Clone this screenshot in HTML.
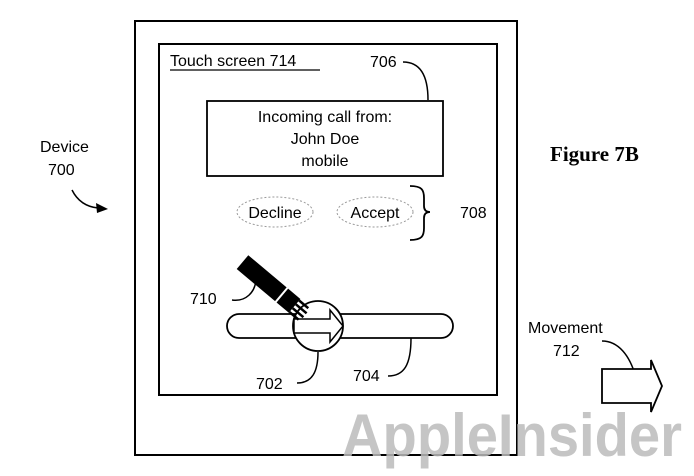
<!DOCTYPE html>
<html><head><style>body{margin:0;background:#fff}svg{display:block}</style></head><body>
<svg width="694" height="476" viewBox="0 0 694 476" font-family="Liberation Sans, sans-serif" font-size="16" fill="#000">
<rect width="694" height="476" fill="#fff"/>
<rect x="135" y="21" width="382" height="434" fill="none" stroke="#000" stroke-width="2"/>
<rect x="159" y="44" width="338" height="351" fill="none" stroke="#000" stroke-width="2"/>
<text x="170" y="66">Touch screen 714</text>
<line x1="170" y1="70" x2="320" y2="70" stroke="#000" stroke-width="1.3"/>
<text x="370" y="67">706</text>
<path d="M403 62 C420 62 428 75 428 100" fill="none" stroke="#000" stroke-width="1.5"/>
<rect x="207" y="101" width="236" height="75" fill="none" stroke="#000" stroke-width="1.8"/>
<text x="325" y="122" text-anchor="middle">Incoming call from:</text>
<text x="325" y="144" text-anchor="middle">John Doe</text>
<text x="325" y="166" text-anchor="middle">mobile</text>
<ellipse cx="275" cy="212" rx="38" ry="15" fill="none" stroke="#999" stroke-dasharray="2 2"/>
<ellipse cx="375" cy="212" rx="38" ry="15" fill="none" stroke="#999" stroke-dasharray="2 2"/>
<text x="275" y="218" text-anchor="middle">Decline</text>
<text x="375" y="218" text-anchor="middle">Accept</text>
<path d="M410 186 C422 186 424 190 424 198 L424 206 C424 210 426 212 430 212 C426 212 424 214 424 218 L424 228 C424 236 422 240 410 240" fill="none" stroke="#000" stroke-width="1.8"/>
<text x="460" y="218">708</text>
<text x="40" y="152">Device</text>
<text x="48" y="175">700</text>
<path d="M72 190 C78 202 88 207 98 208" fill="none" stroke="#000" stroke-width="1.5"/>
<polygon points="108,209 96,203 97,213" fill="#000"/>
<text x="550" y="161" font-family="Liberation Serif, serif" font-weight="bold" font-size="21">Figure 7B</text>
<rect x="227" y="314" width="226" height="24" rx="12" fill="#fff" stroke="#000" stroke-width="1.8"/>
<circle cx="318" cy="326" r="25" fill="#fff" stroke="#000" stroke-width="1.8"/>
<polygon points="294,319 330,319 330,310 343,326 330,342 330,333 294,333" fill="#fff" stroke="#000" stroke-width="1.5"/>
<g transform="translate(290,302) rotate(40)">
<rect x="-62" y="-9" width="50" height="18" fill="#000"/>
<rect x="-10" y="-9" width="16" height="18" fill="#000"/>
<line x1="6" y1="-7" x2="18" y2="-7" stroke="#000" stroke-width="2.5"/>
<line x1="6" y1="-2" x2="20" y2="-2" stroke="#000" stroke-width="2.5"/>
<line x1="6" y1="3" x2="20" y2="3" stroke="#000" stroke-width="2.5"/>
<line x1="6" y1="8" x2="18" y2="8" stroke="#000" stroke-width="2.5"/>
</g>
<text x="190" y="304">710</text>
<path d="M232 300 C246 302 255 292 256 280" fill="none" stroke="#000" stroke-width="1.5"/>
<text x="256" y="389">702</text>
<path d="M297 383 C312 383 318 372 318 352" fill="none" stroke="#000" stroke-width="1.5"/>
<text x="353" y="381">704</text>
<path d="M388 376 C404 376 411 365 411 338" fill="none" stroke="#000" stroke-width="1.5"/>
<text x="528" y="333">Movement</text>
<text x="553" y="356">712</text>
<path d="M602 341 C618 341 630 355 636 378" fill="none" stroke="#000" stroke-width="1.5"/>
<polygon points="602,369 651,369 651,360 662,386 651,412 651,403 602,403" fill="#fff" stroke="#000" stroke-width="1.8"/>
<text x="342" y="456" font-size="60" font-weight="bold" fill="#bbb" fill-opacity="0.85" textLength="340" lengthAdjust="spacingAndGlyphs">AppleInsider</text>
</svg>
</body></html>
